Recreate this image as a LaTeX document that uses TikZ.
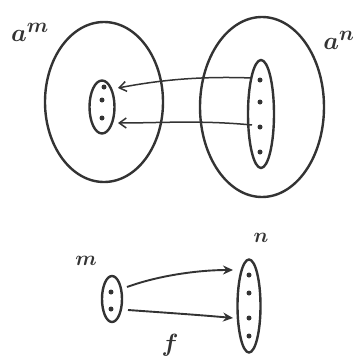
\documentclass[tikz,border=0pt]{standalone}
\usetikzlibrary{shapes.geometric,arrows.meta}
\definecolor{ink}{HTML}{333333}
\begin{document}
\begin{tikzpicture}[x=1pt,y=-1pt,
  ink/.style={draw=ink, line width=2.4pt},
  blob/.style={ink, ellipse, inner sep=0pt},
  dotn/.style={circle, fill=ink, inner sep=0pt, minimum size=5pt},
  uarrow/.style={draw=ink, line width=1.5pt, -{Straight Barb[length=7pt,width=10pt]}},
  larrow/.style={draw=ink, line width=1.9pt, -{Stealth[length=10pt,width=9pt]}},
  lbl/.style={text=ink, inner sep=0pt}]
\useasboundingbox (0,0) rectangle (361,362);
% top big blobs
\node[blob, minimum width=118pt, minimum height=160pt] (A) at (104,102) {};
\node[blob, minimum width=124pt, minimum height=180pt] (B) at (262,107) {};
% inner small blobs
\node[blob, minimum width=25pt, minimum height=53pt] (As) at (102,107) {};
\node[blob, minimum width=26pt, minimum height=108pt] (Bs) at (261,114) {};
% dots
\node[dotn] (a1) at (104,87) {};
\node[dotn] (a2) at (102,100) {};
\node[dotn] (a3) at (102,118) {};
\node[dotn] (b1) at (260,80) {};
\node[dotn] (b2) at (260,102) {};
\node[dotn] (b3) at (260,127) {};
\node[dotn] (b4) at (260,152) {};
% arrow ends
\coordinate (s1) at (252,78);
\coordinate (s2) at (252,125);
\coordinate (e1) at (118,88);
\coordinate (e2) at (118,123);
\draw[uarrow] (s1) .. controls (200,76) and (160,80) .. (e1);
\draw[uarrow] (s2) .. controls (200,120) and (160,123) .. (e2);
% labels
\node[lbl, font=\fontsize{30}{36}\selectfont\boldmath] (am) at (30,32) {$a^{m}$};
\node[lbl, font=\fontsize{30}{36}\selectfont\boldmath] (an) at (339,40) {$a^{n}$};
% bottom
\node[blob, minimum width=20pt, minimum height=46pt] (M) at (112,299) {};
\node[blob, minimum width=23pt, minimum height=93pt] (N) at (249,306) {};
\node[dotn] (m1) at (111,292) {};
\node[dotn] (m2) at (111,309) {};
\node[dotn] (n1) at (249,275) {};
\node[dotn] (n2) at (249,293) {};
\node[dotn] (n3) at (249,318) {};
\node[dotn] (n4) at (249,336) {};
\coordinate (t1) at (127,287);
\coordinate (t2) at (128,310);
\coordinate (u1) at (233,270);
\coordinate (u2) at (233,318);
\draw[larrow] (t1) .. controls (160,275) and (200,270) .. (u1);
\draw[larrow] (t2) .. controls (170,313) and (200,315) .. (u2);
\node[lbl, font=\fontsize{22}{26}\selectfont\boldmath] (ml) at (86,261) {$m$};
\node[lbl, font=\fontsize{22}{26}\selectfont\boldmath] (nl) at (261,238) {$n$};
\node[lbl, font=\fontsize{28}{32}\selectfont\boldmath] (fl) at (170,345) {$f$};
\end{tikzpicture}
\end{document}
